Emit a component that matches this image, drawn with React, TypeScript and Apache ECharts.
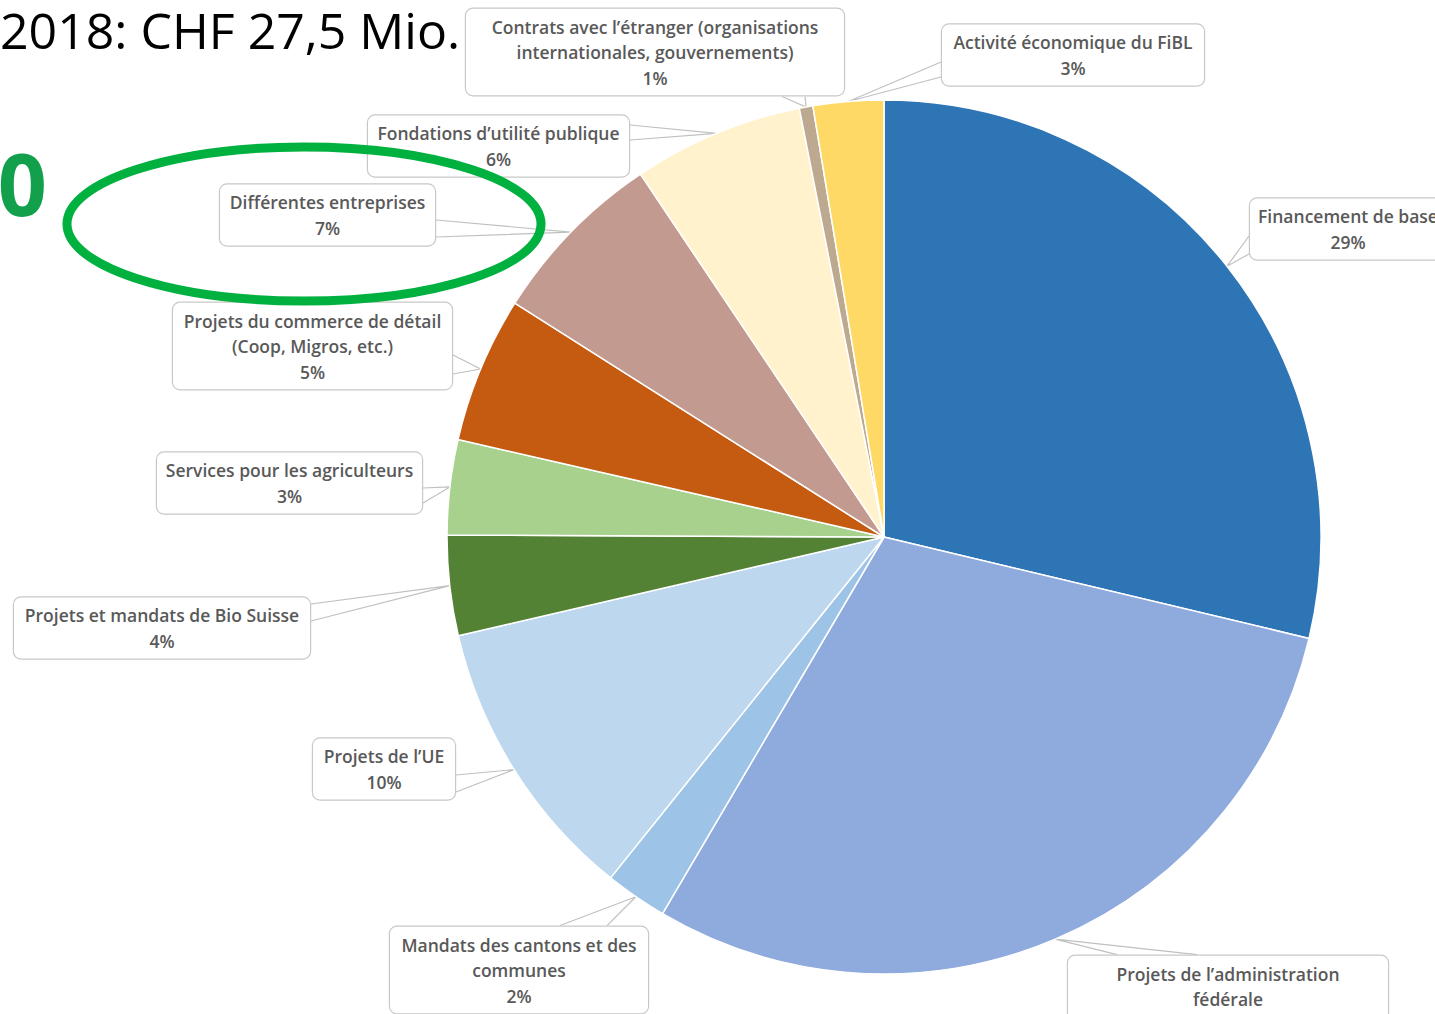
import React, { useEffect, useRef } from "react";
import * as echarts from "echarts";

// ---- data ----
const categories = [
  "Financement de base",
  "Projets de l’administration fédérale",
  "Mandats des cantons et des communes",
  "Projets de l’UE",
  "Projets et mandats de Bio Suisse",
  "Services pour les agriculteurs",
  "Projets du commerce de détail (Coop, Migros, etc.)",
  "Différentes entreprises",
  "Fondations d’utilité publique",
  "Contrats avec l’étranger (organisations internationales, gouvernements)",
  "Activité économique du FiBL",
];
// slice shares as measured from the slice angles (%)
const shares = [28.7, 29.7, 2.3, 10.6, 3.7, 3.5, 5.4, 6.6, 6.3, 0.5, 2.6];
// percentages printed in the labels
const percentLabels = ["29%", "30%", "2%", "10%", "4%", "3%", "5%", "7%", "6%", "1%", "3%"];
// label text lines as wrapped in the picture
const labelTextLines = [
  ["Financement de base"],
  ["Projets de l’administration", "fédérale"],
  ["Mandats des cantons et des", "communes"],
  ["Projets de l’UE"],
  ["Projets et mandats de Bio Suisse"],
  ["Services pour les agriculteurs"],
  ["Projets du commerce de détail", "(Coop, Migros, etc.)"],
  ["Différentes entreprises"],
  ["Fondations d’utilité publique"],
  ["Contrats avec l’étranger (organisations", "internationales, gouvernements)"],
  ["Activité économique du FiBL"],
];
const titleText = "2018: CHF 27,5 Mio.";
const sideText = "0";

// ---- styling / layout ----
const sliceColors = [
  "#2E75B6",
  "#8FAADC",
  "#9DC3E6",
  "#BDD7EE",
  "#548235",
  "#A9D18E",
  "#C55A11",
  "#C39A8F",
  "#FFF2CC",
  "#BCA98F",
  "#FFD966",
];

type Box = { cx: number; cy: number; w: number; side: string; a: number; b: number };
const labelBoxes: Box[] = [
  { cx: 1348, cy: 229, w: 198, side: "left", a: 236, b: 254 },
  { cx: 1228, cy: 999, w: 322, side: "top", a: 1117, b: 1197 },
  { cx: 519, cy: 970, w: 260, side: "top", a: 560, b: 607 },
  { cx: 384, cy: 769, w: 144, side: "right", a: 775, b: 792 },
  { cx: 162, cy: 628, w: 298, side: "right", a: 604, b: 621 },
  { cx: 289.5, cy: 483, w: 267, side: "right", a: 488, b: 503 },
  { cx: 312.5, cy: 346, w: 281, side: "right", a: 355, b: 374 },
  { cx: 327.5, cy: 215, w: 217, side: "right", a: 220, b: 237 },
  { cx: 498.5, cy: 146, w: 263, side: "right", a: 125, b: 140 },
  { cx: 655, cy: 52, w: 380, side: "bottom", a: 782, b: 805 },
  { cx: 1073, cy: 55, w: 264, side: "left", a: 62, b: 77 },
];

const LABEL_FONT = "'Open Sans', 'Noto Sans', sans-serif";
const PAD_X = 8;

export default function App() {
  const ref = useRef<HTMLDivElement>(null);

  useEffect(() => {
    if (!ref.current) return;
    const chart = echarts.init(ref.current, undefined, { renderer: "svg" });

    const data = categories.map((name, i) => ({
      name,
      value: shares[i],
      itemStyle: { color: sliceColors[i] },
      label: { width: labelBoxes[i].w - 2 * PAD_X - 2 },
    }));

    const option: any = {
      animation: false,
      backgroundColor: "#ffffff",
      series: [
        {
          type: "pie",
          center: [884, 537],
          radius: 437,
          startAngle: 90,
          clockwise: true,
          avoidLabelOverlap: false,
          itemStyle: { borderColor: "#ffffff", borderWidth: 1.5 },
          emphasis: { disabled: true },
          label: {
            show: true,
            position: "outside",
            formatter: (p: any) =>
              labelTextLines[p.dataIndex].join("\n") + "\n" + percentLabels[p.dataIndex],
            fontFamily: LABEL_FONT,
            fontSize: 17.5,
            fontWeight: 600,
            color: "#595959",
            lineHeight: 25.5,
            align: "center",
            overflow: "none",
            backgroundColor: "#ffffff",
            borderColor: "#C8C8C8",
            borderWidth: 1.2,
            borderRadius: 7,
            padding: [5, PAD_X],
          },
          labelLine: {
            show: true,
            length: 10,
            length2: 10,
            smooth: false,
            lineStyle: { color: "#C0C0C0", width: 1.2 },
          },
          labelLayout: (p: any) => {
            const bx = labelBoxes[p.dataIndex];
            const h = p.labelRect ? p.labelRect.height : 60;
            const w = bx.w;
            const left = bx.cx - w / 2;
            const right = bx.cx + w / 2;
            const top = bx.cy - h / 2;
            const bottom = bx.cy + h / 2;
            const tip =
              p.labelLinePoints && p.labelLinePoints[0]
                ? p.labelLinePoints[0]
                : [bx.cx, bx.cy];
            let pts: number[][];
            if (bx.side === "left") pts = [[left, bx.a], tip, [left, bx.b]];
            else if (bx.side === "right") pts = [[right, bx.a], tip, [right, bx.b]];
            else if (bx.side === "top") pts = [[bx.a, top], tip, [bx.b, top]];
            else pts = [[bx.a, bottom], tip, [bx.b, bottom]];
            return {
              x: bx.cx,
              y: bx.cy,
              align: "center",
              verticalAlign: "middle",
              labelLinePoints: pts,
            };
          },
          data,
        },
      ],
      graphic: [
        {
          type: "text",
          x: 0,
          y: 5,
          z: 50,
          style: {
            text: titleText,
            font: "400 50px 'Open Sans', sans-serif",
            fill: "#000000",
            textAlign: "left",
            textVerticalAlign: "top",
          },
        },
        {
          type: "text",
          x: 47,
          y: 139,
          z: 50,
          style: {
            text: sideText,
            font: "700 86px 'Open Sans', sans-serif",
            fill: "#12A04C",
            textAlign: "right",
            textVerticalAlign: "top",
          },
        },
        {
          type: "ellipse",
          z: 60,
          shape: { cx: 304, cy: 224, rx: 237, ry: 77 },
          style: { fill: "none", stroke: "#00B140", lineWidth: 9 },
        },
      ],
    };

    chart.setOption(option);
    return () => chart.dispose();
  }, []);

  return (
    <div
      ref={ref}
      style={{ position: "fixed", left: 0, top: 0, width: 1435, height: 1014 }}
    />
  );
}
